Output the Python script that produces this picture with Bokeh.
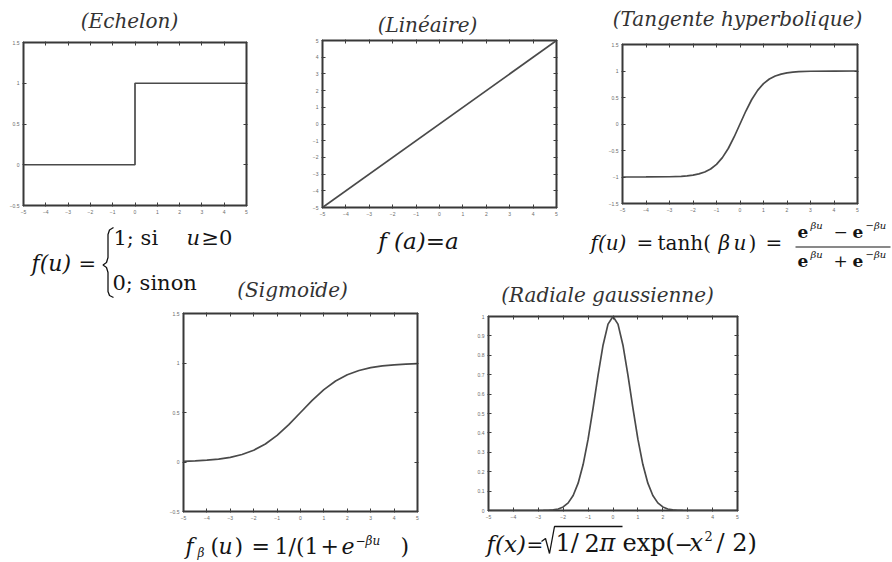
from bokeh.plotting import figure
from bokeh.models import Range1d, FixedTicker, LinearAxis, Label, CustomJSTickFormatter
from bokeh.embed import file_html
from bokeh.resources import INLINE

W, H = 892, 562
SERIF = "DejaVu Serif"
INK = "#141414"
CURVE = "#4a4a4a"
ABS = {"position": "absolute", "left": "0px", "top": "0px"}

# ---- values of the five transfer functions ----
step_x = [-5, 0, 0, 5]
step_y = [0, 0, 1, 1]

lin_x = [-5, 5]
lin_y = [-5, 5]

tanh_x = [-5, -4, -3, -2.5, -2.25, -2, -1.75, -1.5, -1.25, -1, -0.75, -0.5, -0.25, 0,
          0.25, 0.5, 0.75, 1, 1.25, 1.5, 1.75, 2, 2.25, 2.5, 3, 4, 5]
tanh_y = [-0.9999, -0.9993, -0.9951, -0.9866, -0.9780, -0.9640, -0.9414, -0.9051, -0.8483,
          -0.7616, -0.6351, -0.4621, -0.2449, 0.0,
          0.2449, 0.4621, 0.6351, 0.7616, 0.8483, 0.9051, 0.9414, 0.9640, 0.9780, 0.9866,
          0.9951, 0.9993, 0.9999]

sig_x = [-5, -4.5, -4, -3.5, -3, -2.5, -2, -1.5, -1, -0.5, 0,
         0.5, 1, 1.5, 2, 2.5, 3, 3.5, 4, 4.5, 5]
sig_y = [0.0067, 0.0110, 0.0180, 0.0293, 0.0474, 0.0759, 0.1192, 0.1824, 0.2689, 0.3775, 0.5,
         0.6225, 0.7311, 0.8176, 0.8808, 0.9241, 0.9526, 0.9707, 0.9820, 0.9890, 0.9933]

rbf_x = [-5, -4, -3, -2.8, -2.6, -2.4, -2.2, -2, -1.8, -1.6, -1.4, -1.2, -1, -0.8, -0.6,
         -0.4, -0.2, 0, 0.2, 0.4, 0.6, 0.8, 1, 1.2, 1.4, 1.6, 1.8, 2, 2.2, 2.4, 2.6,
         2.8, 3, 4, 5]
rbf_y = [0.0, 0.0, 0.0001, 0.0004, 0.0012, 0.0032, 0.0079, 0.0183, 0.0392, 0.0773, 0.1409,
         0.2369, 0.3679, 0.5273, 0.6977, 0.8521, 0.9608, 1.0, 0.9608, 0.8521, 0.6977,
         0.5273, 0.3679, 0.2369, 0.1409, 0.0773, 0.0392, 0.0183, 0.0079, 0.0032, 0.0012,
         0.0004, 0.0001, 0.0, 0.0]

# ---- axis ticks ----
x_ticks = [-5, -4, -3, -2, -1, 0, 1, 2, 3, 4, 5]
step_yticks = [-0.5, 0, 0.5, 1, 1.5]
lin_yticks = [-5, -4, -3, -2, -1, 0, 1, 2, 3, 4, 5]
tanh_yticks = [-1.5, -1, -0.5, 0, 0.5, 1, 1.5]
sig_yticks = [-0.5, 0, 0.5, 1, 1.5]
rbf_yticks = [0, 0.1, 0.2, 0.3, 0.4, 0.5, 0.6, 0.7, 0.8, 0.9, 1]


def panel(box, xr, yr, xticks, yticks, x, y):
    """A boxed plot on a full-page transparent canvas; box = frame edges in page pixels."""
    left, right, top, bottom = box
    p = figure(width=W, height=H, output_backend="svg", toolbar_location=None,
               x_range=Range1d(*xr), y_range=Range1d(*yr),
               x_axis_location=None, y_axis_location=None,
               min_border_left=left, min_border_right=W - right,
               min_border_top=top, min_border_bottom=H - bottom,
               background_fill_color=None, border_fill_color=None,
               outline_line_color="#383838", outline_line_width=2, styles=ABS)
    p.grid.visible = False
    for loc, ticks, shown in (("below", xticks, True), ("above", xticks, False),
                              ("left", yticks, True), ("right", yticks, False)):
        ax = LinearAxis(ticker=FixedTicker(ticks=ticks, minor_ticks=[]),
                        axis_line_color=None,
                        major_tick_in=3, major_tick_out=1,
                        major_tick_line_color="#3c3c3c", major_tick_line_width=1,
                        major_label_text_font_size="5px",
                        major_label_text_color="#6a6a6a",
                        major_label_standoff=3)
        if not shown:
            ax.formatter = CustomJSTickFormatter(code="return ''")
        p.add_layout(ax, loc)
    p.line(x, y, line_color=CURVE, line_width=1.7)
    return p


plots = [
    panel((23, 246, 42, 205), (-5, 5), (-0.5, 1.5), x_ticks, step_yticks, step_x, step_y),
    panel((322, 556, 40, 207), (-5, 5), (-5, 5), x_ticks, lin_yticks, lin_x, lin_y),
    panel((622, 857, 44, 203), (-5, 5), (-1.5, 1.5), x_ticks, tanh_yticks, tanh_x, tanh_y),
    panel((183, 417, 313, 511), (-5, 5), (-0.5, 1.5), x_ticks, sig_yticks, sig_x, sig_y),
    panel((488, 737, 316, 510), (-5, 5), (0, 1), x_ticks, rbf_yticks, rbf_x, rbf_y),
]

# ---- text layer: titles and formulas, laid out in page pixels ----
t = figure(width=W, height=H, output_backend="svg", toolbar_location=None,
           x_range=Range1d(0, W), y_range=Range1d(H, 0),
           x_axis_location=None, y_axis_location=None,
           min_border=0, background_fill_color=None, border_fill_color=None,
           outline_line_color=None, styles=ABS)
t.grid.visible = False

# the label anchor sits a little above the drawn baseline
BASE_SHIFT = 0.38


def txt(px, base, s, size, style="normal", align="left", color=INK):
    t.add_layout(Label(x=px, y=base - BASE_SHIFT * size, text=s, text_font=SERIF,
                       text_font_size=f"{size}px", text_font_style=style,
                       text_color=color, text_align=align, text_baseline="alphabetic"))


def title(cx, base, s):
    txt(cx, base, s, 20, style="italic", align="center", color="#333333")


def stroke(pts, width=1.3):
    t.line([a for a, _ in pts], [b for _, b in pts], line_color=INK, line_width=width)


# (Echelon)
title(129, 28, "(Echelon)")
txt(31, 271, "f(u)", 22, style="italic")
txt(78, 271, "=", 21)
stroke([(113, 227), (109, 229.5), (107.5, 234), (107.5, 257), (106, 262), (102.5, 264.5),
        (106, 267), (107.5, 272), (107.5, 291), (109, 295), (113, 297)])
txt(113, 245, "1; si", 21)
txt(186, 245, "u", 21, style="italic")
txt(201, 245, "≥0", 21)
txt(112, 290, "0; sinon", 21)

# (Linéaire)
title(427, 32, "(Linéaire)")
txt(418, 249, "f (a)=a", 23, style="italic", align="center")

# (Tangente hyperbolique)
title(737, 26, "(Tangente hyperbolique)")
txt(590, 250, "f(u)", 20, style="italic")
txt(636, 250, "=", 20)
txt(657, 250, "tanh(", 20)
txt(718, 250, "β", 20, style="italic")
txt(733, 250, "u", 20, style="italic")
txt(748, 250, ")", 20)
txt(765, 250, "=", 20)
stroke([(795, 246.5), (890, 246.5)], width=1.2)
for base, sup, op in ((238, 229, "−"), (267, 258, "+")):
    txt(797, base, "e", 17, style="bold")
    txt(810, sup, "βu", 10, style="italic")
    txt(833, base, op, 17)
    txt(852, base, "e", 17, style="bold")
    txt(865, sup, "−βu", 10, style="italic")

# (Sigmoïde)
title(292, 297, "(Sigmoïde)")
txt(185, 554, "f", 22, style="italic")
txt(197, 557, "β", 12, style="italic")
txt(210, 554, "(", 22)
txt(218, 554, "u", 22, style="italic")
txt(234, 554, ")", 22)
txt(251, 554, "=", 22)
txt(274, 554, "1/(1", 22)
txt(320, 554, "+", 22)
txt(341, 554, "e", 22, style="italic")
txt(355, 545, "−βu", 12, style="italic")
txt(400, 554, ")", 22)

# (Radiale gaussienne)
title(607, 302, "(Radiale gaussienne)")
txt(486, 552, "f(x)", 23, style="italic")
txt(526, 552, "=", 20)
stroke([(541, 541), (545, 538), (549, 553), (554, 526), (622, 526)])
txt(555, 552, "1/", 24)
txt(584, 552, "2", 24)
txt(599, 552, "π", 24, style="italic")
txt(622, 552, "exp(", 24)
txt(674, 552, "−", 22)
txt(689, 552, "x", 24, style="italic")
txt(704, 540, "2", 13)
txt(716, 552, "/ 2)", 24)

# independent roots stacked on the same page area
open("out.html", "w").write(file_html(plots + [t], INLINE))
